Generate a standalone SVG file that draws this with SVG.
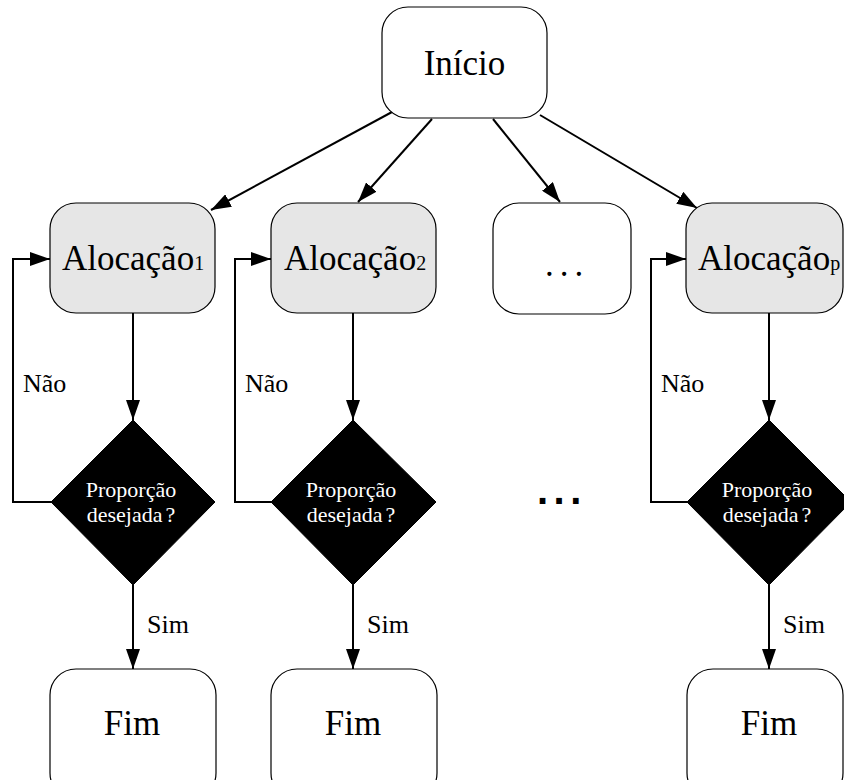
<svg xmlns="http://www.w3.org/2000/svg" width="844" height="780" viewBox="0 0 844 780">
  <style>
    .box { fill: #ffffff; stroke: #000000; stroke-width: 1.2; }
    .alloc { fill: #e6e6e6; stroke: #000000; stroke-width: 1.2; }
    .dec { fill: #000000; stroke: #000000; stroke-width: 1; }
    .serif { font-family: 'Liberation Serif', 'Times New Roman', serif; }
    .big { font-size: 35px; fill: #000000; }
    .sub { font-size: 20px; }
    .lbl { font-size: 26px; fill: #000000; }
    .dtxt { font-size: 22px; fill: #ffffff; text-anchor: middle; }
    .edge { fill: none; stroke: #000000; stroke-width: 2; }
  </style>
  <defs>
    <marker id="arrow" markerUnits="userSpaceOnUse" markerWidth="20" markerHeight="14" refX="20" refY="7" orient="auto">
      <path d="M0,0 L20,7 L0,14 z" fill="#000000"/>
    </marker>
  </defs>

  <g id="edges">
    <!-- start to allocations -->
    <line class="edge" x1="392" y1="112" x2="211" y2="210" marker-end="url(#arrow)"/>
    <line class="edge" x1="432" y1="119" x2="358" y2="202" marker-end="url(#arrow)"/>
    <line class="edge" x1="493" y1="119" x2="560" y2="202" marker-end="url(#arrow)"/>
    <line class="edge" x1="540" y1="115" x2="697" y2="208" marker-end="url(#arrow)"/>
    <!-- allocation to decision -->
    <line class="edge" x1="133" y1="313" x2="133" y2="420" marker-end="url(#arrow)"/>
    <line class="edge" x1="353" y1="313" x2="353" y2="420" marker-end="url(#arrow)"/>
    <line class="edge" x1="769" y1="313" x2="769" y2="420" marker-end="url(#arrow)"/>
    <!-- decision to end -->
    <line class="edge" x1="133" y1="585" x2="133" y2="669" marker-end="url(#arrow)"/>
    <line class="edge" x1="353" y1="585" x2="353" y2="669" marker-end="url(#arrow)"/>
    <line class="edge" x1="769" y1="585" x2="769" y2="669" marker-end="url(#arrow)"/>
    <!-- retry loops -->
    <polyline class="edge" points="51,502 13,502 13,259 50,259" marker-end="url(#arrow)"/>
    <polyline class="edge" points="271,502 235,502 235,259 271,259" marker-end="url(#arrow)"/>
    <polyline class="edge" points="687,502 651,502 651,259 686,259" marker-end="url(#arrow)"/>
    <!-- edge labels -->
    <text class="serif lbl" x="23" y="392">Não</text>
    <text class="serif lbl" x="245" y="392">Não</text>
    <text class="serif lbl" x="661" y="392">Não</text>
    <text class="serif lbl" x="147" y="633">Sim</text>
    <text class="serif lbl" x="367" y="633">Sim</text>
    <text class="serif lbl" x="783" y="633">Sim</text>
  </g>

  <g id="inicio">
    <rect class="box" x="382" y="7" width="165" height="111" rx="26"/>
    <text class="serif big" x="464.5" y="75" text-anchor="middle">Início</text>
  </g>

  <g id="alocacao1">
    <rect class="alloc" x="50" y="203" width="165" height="110" rx="26"/>
    <text class="serif big" x="62" y="270" font-size="33.6">Alocação<tspan class="sub">1</tspan></text>
  </g>
  <g id="alocacao2">
    <rect class="alloc" x="271" y="203" width="165" height="110" rx="26"/>
    <text class="serif big" x="284" y="270" font-size="33.6">Alocação<tspan class="sub">2</tspan></text>
  </g>
  <g id="reticencias">
    <rect class="box" x="493" y="203" width="138" height="111" rx="26"/>
    <text class="serif big" x="545" y="276" letter-spacing="6">...</text>
  </g>
  <g id="alocacaop">
    <rect class="alloc" x="686" y="203" width="157" height="110" rx="26"/>
    <text class="serif big" x="698" y="270" font-size="33.6">Alocação<tspan class="sub">p</tspan></text>
  </g>

  <g id="decisao1">
    <polygon class="dec" points="133,420 215,502 133,585 51,502"/>
    <text class="serif dtxt" x="131" y="497">Proporção</text>
    <text class="serif dtxt" x="131" y="522">desejada<tspan dx="3">?</tspan></text>
  </g>
  <g id="decisao2">
    <polygon class="dec" points="353,420 436,502 353,585 271,502"/>
    <text class="serif dtxt" x="351" y="497">Proporção</text>
    <text class="serif dtxt" x="351" y="522">desejada<tspan dx="3">?</tspan></text>
  </g>
  <g id="reticencias-meio">
    <text x="537" y="504" font-family="'Liberation Sans', Arial, sans-serif" font-weight="bold" font-size="40" letter-spacing="5.5">...</text>
  </g>
  <g id="decisaop">
    <polygon class="dec" points="769,420 851,502 769,585 687,502"/>
    <text class="serif dtxt" x="767" y="497">Proporção</text>
    <text class="serif dtxt" x="767" y="522">desejada<tspan dx="3">?</tspan></text>
  </g>

  <g id="fim1">
    <rect class="box" x="50" y="669" width="166" height="130" rx="26"/>
    <text class="serif big" x="132" y="735" text-anchor="middle">Fim</text>
  </g>
  <g id="fim2">
    <rect class="box" x="271" y="669" width="166" height="130" rx="26"/>
    <text class="serif big" x="353" y="735" text-anchor="middle">Fim</text>
  </g>
  <g id="fimp">
    <rect class="box" x="687" y="669" width="156" height="130" rx="26"/>
    <text class="serif big" x="769" y="735" text-anchor="middle">Fim</text>
  </g>
</svg>
